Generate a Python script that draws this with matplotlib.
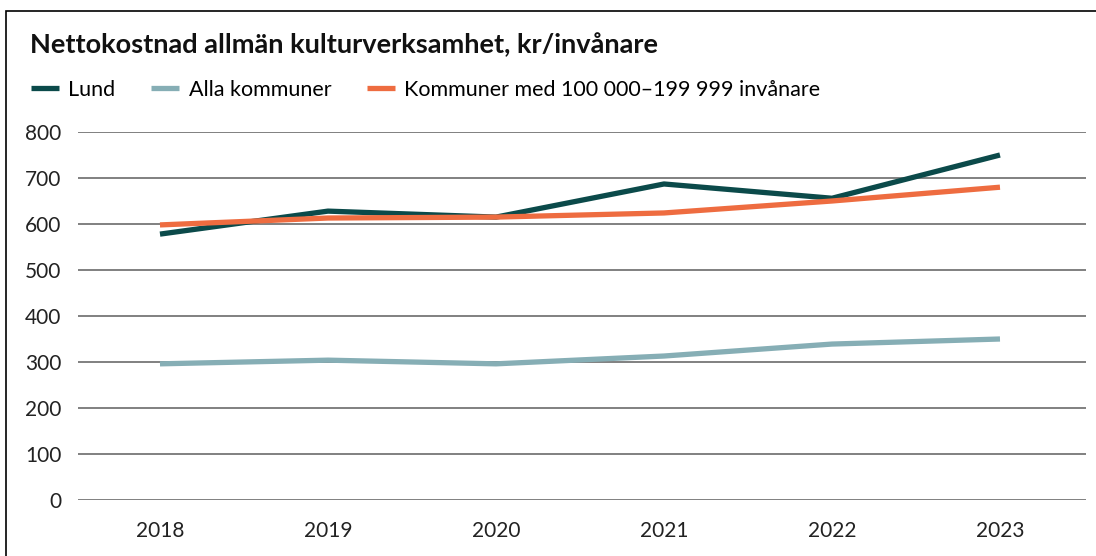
import matplotlib.pyplot as plt
from matplotlib.patches import Rectangle

plt.rcParams['font.family'] = ['Lato', 'DejaVu Sans']

years = ['2018', '2019', '2020', '2021', '2022', '2023']
lund = [578, 628, 615, 687, 656, 750]
alla = [296, 304, 296, 313, 339, 350]
kommuner_100k = [598, 613, 615, 624, 650, 680]

labels = ['Lund', 'Alla kommuner', 'Kommuner med 100 000–199 999 invånare']
colors = ['#0b4a4a', '#86aeb5', '#ee6c40']

W, H = 1096, 556
fig = plt.figure(figsize=(W / 100, H / 100), dpi=100)
ax = fig.add_axes([78 / W, (H - 500) / H, (1086 - 78) / W, (500 - 132) / H])

x = range(len(years))
for vals, lab, col in zip([lund, alla, kommuner_100k], labels, colors):
    ax.plot(x, vals, color=col, lw=3.8, label=lab, solid_capstyle='butt')

ax.set_ylim(0, 800)
ax.set_yticks(range(0, 801, 100))
ax.set_xlim(-0.488, 5.512)
ax.set_xticks(list(x))
ax.set_xticklabels(years)
ax.grid(axis='y', color='#808080', lw=1.4)
ax.set_axisbelow(True)
for s in ax.spines.values():
    s.set_visible(False)
ax.tick_params(axis='both', length=0, labelsize=15, colors='#222222')
ax.tick_params(axis='y', pad=12)
ax.tick_params(axis='x', pad=15)

fig.text(30 / W, 1 - 45 / H, 'Nettokostnad allmän kulturverksamhet, kr/invånare',
         fontsize=19.5, fontweight='bold', va='center', ha='left', color='#111111')

handles = ax.get_lines()
fig.legend(handles, labels, loc='center left', bbox_to_anchor=(22 / W, 1 - 90 / H),
           ncol=3, frameon=False, fontsize=15.5, handlelength=1.3, handletextpad=0.45,
           columnspacing=1.65, borderaxespad=0)

fig.patches.append(Rectangle((6 / W, -0.1), 1.2, 1.1 - 11 / H, transform=fig.transFigure,
                             fill=False, edgecolor='black', lw=1.2))

fig.savefig('out.png', dpi=100)
